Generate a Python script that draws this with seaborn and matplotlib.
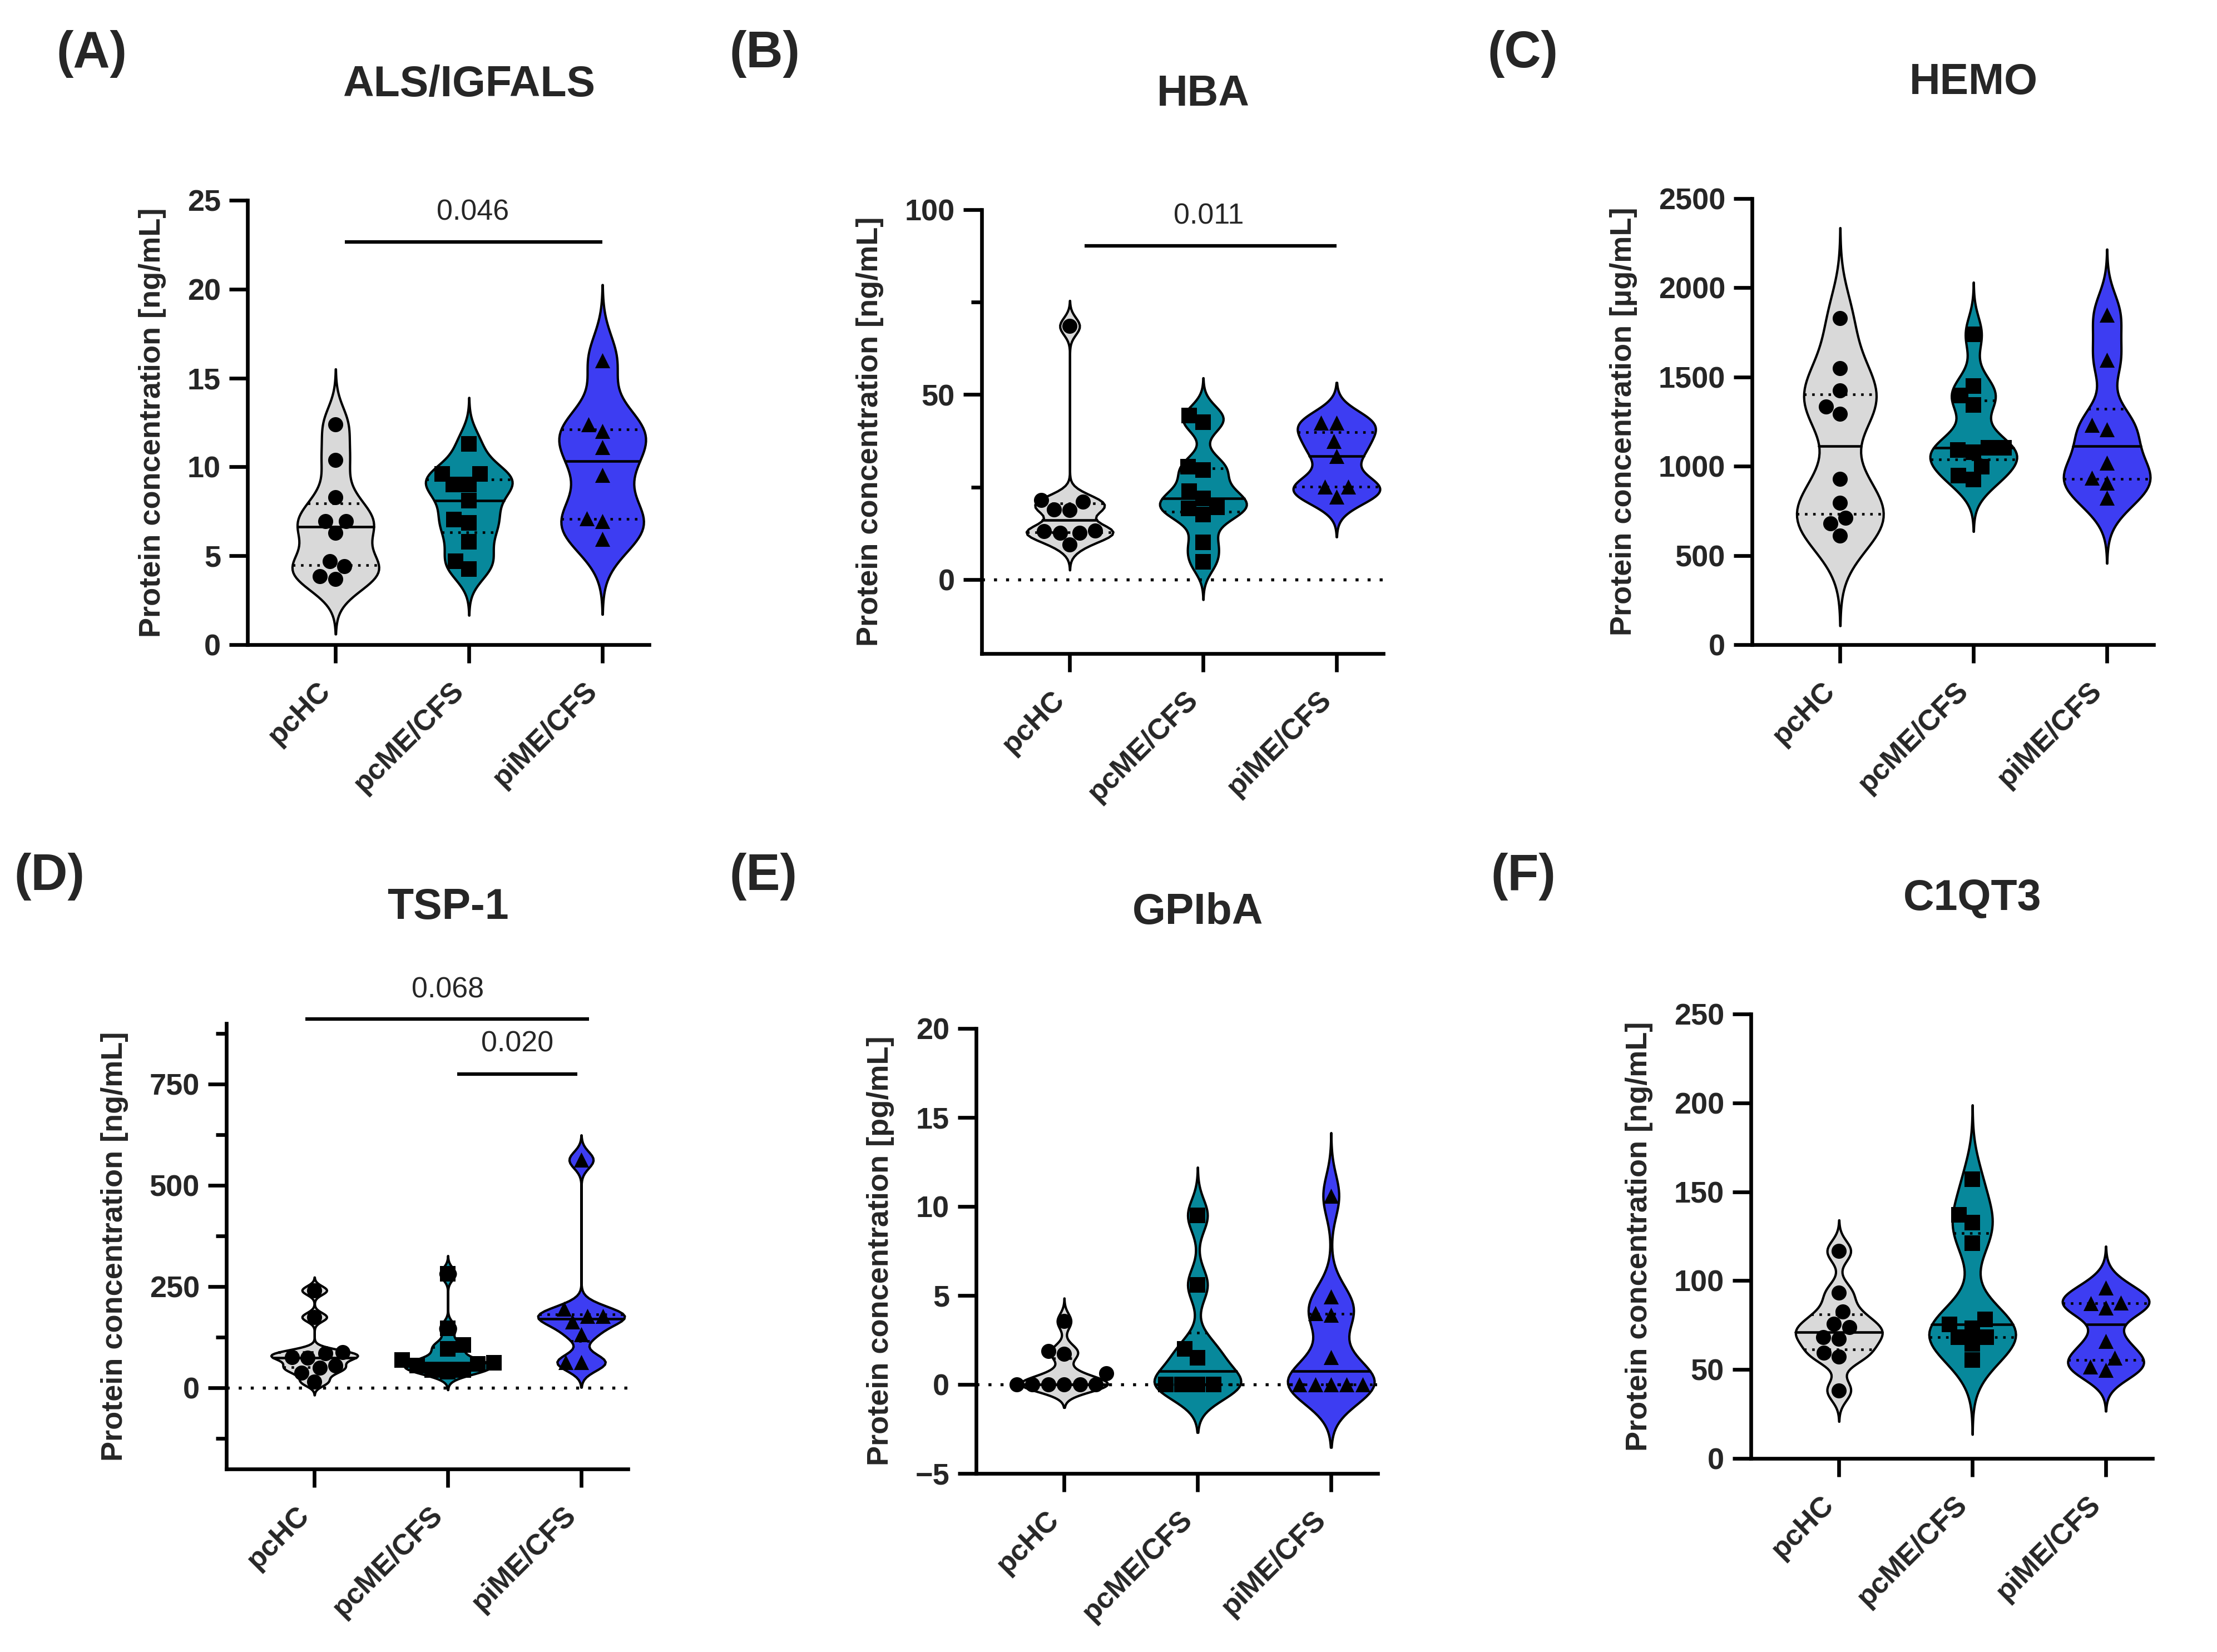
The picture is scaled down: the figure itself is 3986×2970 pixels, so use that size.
import numpy as np
import pandas as pd
import seaborn as sns
from matplotlib import pyplot as plt
from matplotlib.ticker import MultipleLocator

sns.set_style("ticks")
plt.rcParams["font.family"] = ["Liberation Sans", "DejaVu Sans"]
plt.rcParams["font.weight"] = "bold"
plt.rcParams["axes.labelweight"] = "bold"

GROUPS = ["pcHC", "pcME/CFS", "piME/CFS"]
COLORS = ["#d9d9d9", "#07889b", "#3d3df2"]
MARKERS = ["o", "s", "^"]

# (A) ALS/IGFALS [ng/mL]
als_pchc = [12.4, 10.4, 8.3, 6.95, 6.95, 6.3, 4.7, 4.4, 3.85, 3.7]
als_pcme = [11.3, 9.6, 9.6, 9.0, 9.0, 8.1, 7.05, 6.85, 5.8, 4.7, 4.25]
als_pime = [16.0, 12.4, 12.0, 11.1, 9.55, 7.1, 6.95, 5.95]

# (B) HBA [ng/mL]
hba_pchc = [68.5, 21.5, 21.1, 19.0, 18.8, 13.3, 13.1, 12.7, 12.7, 9.5]
hba_pcme = [44.3, 42.5, 30.6, 29.6, 23.9, 22.0, 19.6, 19.2, 17.6, 10.1, 4.8]
hba_pime = [42.4, 42.4, 37.4, 33.4, 25.1, 25.1, 22.4]

# (C) HEMO [ug/mL]
hemo_pchc = [1830, 1550, 1425, 1335, 1295, 930, 795, 710, 680, 612]
hemo_pcme = [1740, 1450, 1395, 1345, 1105, 1105, 1092, 1077, 997, 947, 925]
hemo_pime = [1850, 1595, 1230, 1205, 1020, 935, 907, 822]

# (D) TSP-1 [ng/mL]
tsp_pchc = [241, 175, 89, 85, 76, 74, 56, 50, 37, 15]
tsp_pcme = [282, 148, 106, 96, 69, 62, 59, 56, 44, 44, 40]
tsp_pime = [563, 195, 177, 177, 164, 133, 63, 63]

# (E) GPIbA [pg/mL]
gp_pchc = [3.55, 1.87, 1.73, 0.64, 0, 0, 0, 0, 0, 0]
gp_pcme = [9.5, 5.6, 2.0, 1.5, 0, 0, 0, 0]
gp_pime = [10.6, 4.95, 4.0, 3.9, 1.53, 0, 0, 0, 0, 0]

# (F) C1QT3 [ng/mL]
c1_pchc = [116.6, 93.3, 82.7, 75.7, 73.7, 68.3, 67.3, 59.3, 57.3, 38.3]
c1_pcme = [157, 137, 132.6, 121, 78.3, 75.3, 73.3, 68.3, 68.3, 64.3, 55.3]
c1_pime = [96.2, 87.7, 87.3, 84.7, 65.9, 56.7, 51.7, 49.7]

# p-value brackets: (x start, x end, y line, text x, text y, text)
als_brackets = [(0.07, 2.0, 22.65, 1.03, 24.3, "0.046")]
hba_brackets = [(0.11, 2.0, 90.2, 1.04, 98.2, "0.011")]
tsp_brackets = [(-0.07, 2.06, 911, 1.0, 982, "0.068"),
                (1.07, 1.97, 775, 1.52, 849, "0.020")]

panels = [
    dict(letter="(A)", title="ALS/IGFALS", unit="ng/mL",
         data=[als_pchc, als_pcme, als_pime], ylim=(0, 25), major=5, minor=None,
         zero=False, brackets=als_brackets),
    dict(letter="(B)", title="HBA", unit="ng/mL",
         data=[hba_pchc, hba_pcme, hba_pime], ylim=(-20, 100), major=50, minor=25,
         zero=True, brackets=hba_brackets),
    dict(letter="(C)", title="HEMO", unit="µg/mL",
         data=[hemo_pchc, hemo_pcme, hemo_pime], ylim=(0, 2500), major=500, minor=None,
         zero=False, brackets=[]),
    dict(letter="(D)", title="TSP-1", unit="ng/mL",
         data=[tsp_pchc, tsp_pcme, tsp_pime], ylim=(-200, 900), major=250, minor=125,
         zero=True, brackets=tsp_brackets),
    dict(letter="(E)", title="GPIbA", unit="pg/mL",
         data=[gp_pchc, gp_pcme, gp_pime], ylim=(-5, 20), major=5, minor=None,
         zero=True, brackets=[]),
    dict(letter="(F)", title="C1QT3", unit="ng/mL",
         data=[c1_pchc, c1_pcme, c1_pime], ylim=(0, 250), major=50, minor=None,
         zero=False, brackets=[]),
]

# layout in pixels: axes left, top, bottom and panel letter centre
W, H = 3986, 2970
AX_W = 722
layout = [
    (445, 360, 1159, (165, 97)),
    (1765, 377, 1175, (1375, 97)),
    (3150, 357, 1159, (2738, 97)),
    (407, 1840, 2641, (89, 1576)),
    (1755, 1849, 2649, (1373, 1576)),
    (3148, 1823, 2622, (2739, 1576)),
]


def robust_bw(kde):
    # Silverman-style bandwidth using the smaller of SD and IQR/1.34
    x = kde.dataset.ravel()
    sd = x.std(ddof=1)
    q1, q3 = np.percentile(x, [25, 75])
    spread = min(sd, (q3 - q1) / 1.34) if q3 > q1 else sd
    return 0.9 * spread * x.size ** -0.2 / sd


fig = plt.figure(figsize=(W / 300, H / 300), dpi=300)

for panel, (left, top, bottom, letter_xy) in zip(panels, layout):
    ax = fig.add_axes([left / W, 1 - bottom / H, AX_W / W, (bottom - top) / H])

    df = pd.concat([pd.DataFrame({"group": g, "value": vals})
                    for g, vals in zip(GROUPS, panel["data"])], ignore_index=True)

    sns.violinplot(data=df, x="group", y="value", order=GROUPS, hue="group",
                   hue_order=GROUPS, palette=COLORS, legend=False, inner="quart",
                   density_norm="width", width=0.65, cut=3.0, bw_method=robust_bw,
                   bw_adjust=0.7, linewidth=1.0, linecolor="black", saturation=1,
                   ax=ax)

    # median solid, quartiles dotted (Prism style)
    for i, line in enumerate(ax.lines):
        line.set_color("black")
        if i % 3 == 1:
            line.set_linestyle("-")
            line.set_linewidth(1.1)
        else:
            line.set_linestyle((0, (1, 2.2)))
            line.set_linewidth(1.1)

    if panel["zero"]:
        ax.axhline(0, color="black", lw=1.3, linestyle=(0, (1, 3)), zorder=2.5)

    for g, marker in zip(GROUPS, MARKERS):
        sub = df[df["group"] == g]
        sns.swarmplot(data=sub, x="group", y="value", order=GROUPS, color="black",
                      marker=marker, size=6.5, zorder=3, ax=ax)

    for x0, x1, yl, xt, yt, txt in panel["brackets"]:
        ax.plot([x0, x1], [yl, yl], color="black", lw=1.5, clip_on=False,
                solid_capstyle="butt")
        ax.text(xt, yt, txt, ha="center", va="center", fontsize=12.5,
                fontweight="normal", clip_on=False)

    ax.set_xlim(-0.66, 2.35)
    ax.set_ylim(*panel["ylim"])
    ax.yaxis.set_major_locator(MultipleLocator(panel["major"]))
    if panel["minor"]:
        ax.yaxis.set_minor_locator(MultipleLocator(panel["minor"]))

    sns.despine(ax=ax)
    for side in ["left", "bottom"]:
        ax.spines[side].set_linewidth(1.6)
        ax.spines[side].set_color("black")
    ax.tick_params(axis="both", which="major", length=8, width=1.6,
                   labelsize=13, color="black")
    ax.tick_params(axis="y", which="minor", length=4.5, width=1.6, color="black")
    ax.tick_params(axis="x", pad=6)
    for lab in ax.get_xticklabels():
        lab.set_rotation(45)
        lab.set_ha("right")
        lab.set_va("top")
        lab.set_fontsize(12.5)

    ax.set_xlabel("")
    ax.set_ylabel(f"Protein concentration [{panel['unit']}]", fontsize=13,
                  labelpad=9)

    ax.text(1, 1.26, panel["title"], transform=ax.get_xaxis_transform(),
            ha="center", va="center", fontsize=18.5, fontweight="bold")
    fig.text(letter_xy[0] / W, 1 - letter_xy[1] / H, panel["letter"],
             ha="center", va="center", fontsize=22, fontweight="bold")

fig.savefig("out.png", dpi=300)
